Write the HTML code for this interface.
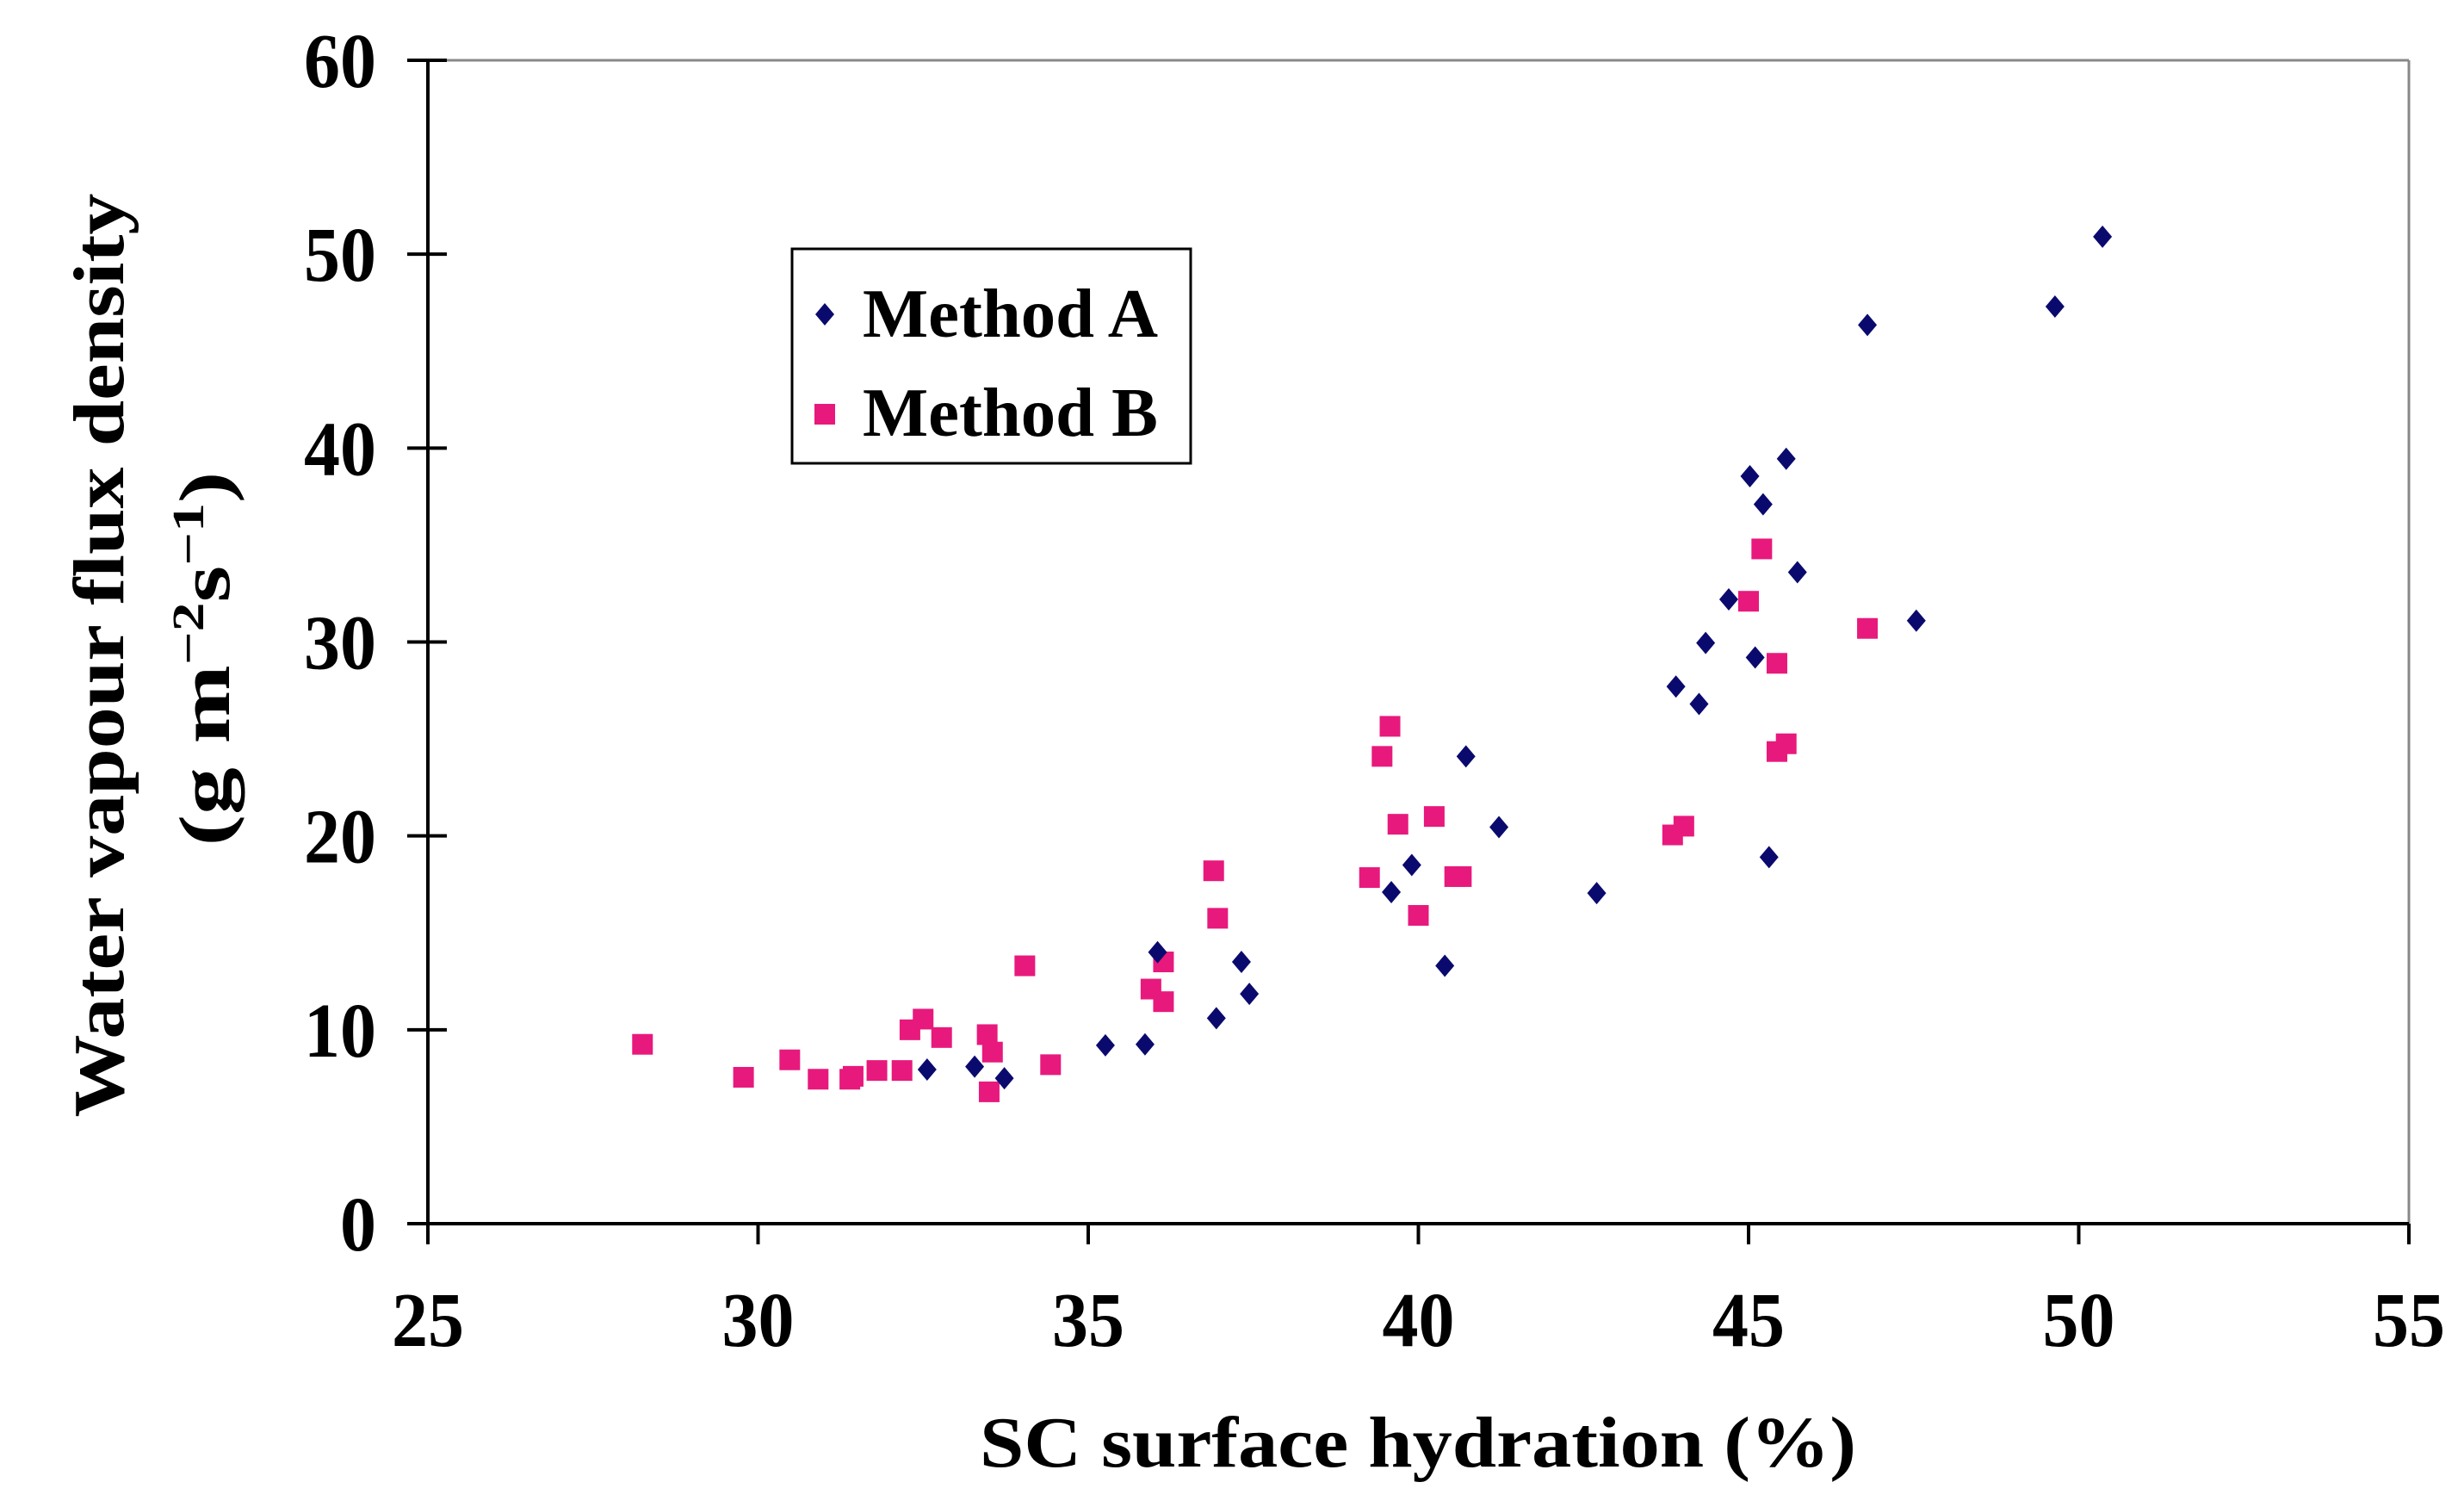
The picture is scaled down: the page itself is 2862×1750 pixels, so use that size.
<!DOCTYPE html>
<html><head><meta charset="utf-8"><style>
html,body{margin:0;padding:0;background:#fff;}
svg{display:block;}
text{font-family:"Liberation Serif",serif;font-weight:bold;fill:#000;}
</style></head><body>
<svg id="chart" width="2862" height="1750" viewBox="0 0 2862 1750" xmlns="http://www.w3.org/2000/svg">
<g id="frame">
<line x1="497" y1="70" x2="2798" y2="70" stroke="#888" stroke-width="3"/>
<line x1="2798" y1="70" x2="2798" y2="1421" stroke="#888" stroke-width="3"/>
<line x1="497" y1="70" x2="497" y2="1421" stroke="#000" stroke-width="4"/>
<line x1="497" y1="1421" x2="2798" y2="1421" stroke="#000" stroke-width="4"/>
</g>
<g id="ticks"></g>
<g id="points"></g>
<g id="legend">
<rect x="920" y="289" width="463" height="249" fill="#fff" stroke="#000" stroke-width="3"/>
<polygon points="958,352 969,365 958,378 947,365" fill="#0a0a6e"/>
<text x="1002" y="391" font-size="80" textLength="343" lengthAdjust="spacingAndGlyphs">Method A</text>
<rect x="946" y="469" width="24" height="24" fill="#e8197d"/>
<text x="1002" y="506" font-size="80" textLength="343" lengthAdjust="spacingAndGlyphs">Method B</text>
</g>
<text x="1647" y="1703" font-size="84" text-anchor="middle" textLength="1018" lengthAdjust="spacingAndGlyphs">SC surface hydration (%)</text>
<text transform="translate(143,761) rotate(-90)" font-size="84" text-anchor="middle" textLength="1073" lengthAdjust="spacingAndGlyphs">Water vapour flux density</text>
<text transform="translate(266,765) rotate(-90)" font-size="84" text-anchor="middle" textLength="435" lengthAdjust="spacingAndGlyphs">(g m<tspan font-size="52" dy="-30">−2</tspan><tspan dy="30">s</tspan><tspan font-size="52" dy="-30">−1</tspan><tspan dy="30">)</tspan></text>
</svg>
<script>
const xTicks = [25, 30, 35, 40, 45, 50, 55];
const yTicks = [0, 10, 20, 30, 40, 50, 60];
const aX = [32.56,33.28,33.73,35.26,35.86,36.05,36.94,37.32,37.44,39.59,39.9,40.4,40.72,41.22,42.7,43.9,44.25,44.35,44.7,45.02,45.1,45.22,45.31,45.57,45.74,46.8,47.54,49.64,50.36];
const aY = [7.95,8.1,7.5,9.2,9.25,14.0,10.6,13.5,11.85,17.1,18.5,13.3,24.1,20.45,17.05,27.7,26.8,29.95,32.2,38.55,29.2,37.1,18.9,39.45,33.6,46.35,31.1,47.3,50.9];
const bX = [28.25,29.78,30.48,30.91,31.39,31.44,31.8,32.18,32.3,32.5,32.78,33.47,33.55,33.5,34.04,34.43,35.95,36.14,36.14,36.9,36.96,39.26,39.45,39.57,39.69,40.0,40.24,40.55,40.65,43.85,44.02,45.0,45.2,45.43,45.43,45.57,46.8];
const bY = [9.25,7.55,8.45,7.45,7.45,7.6,7.9,7.9,10.0,10.55,9.6,9.75,8.85,6.8,13.3,8.2,12.1,13.5,11.45,18.2,15.75,17.85,24.1,25.65,20.6,15.9,21.0,17.9,17.9,20.05,20.5,32.1,34.8,28.9,24.35,24.75,30.7];
const NS = "http://www.w3.org/2000/svg";
const X0 = 497, X1 = 2798, Y0 = 1421, Y1 = 70;
function sx(v){ return X0 + (v - 25) / 30 * (X1 - X0); }
function sy(v){ return Y0 - v / 60 * (Y0 - Y1); }
const tg = document.getElementById('ticks');
const pg = document.getElementById('points');
function mk(tag, attrs, parent){ const e = document.createElementNS(NS, tag); for (const k in attrs) e.setAttribute(k, attrs[k]); parent.appendChild(e); return e; }
yTicks.forEach(v => {
  const l = mk('line', {x1: 473, x2: 519, y1: sy(v), y2: sy(v), stroke: '#000', 'stroke-width': 4}, tg);
  
  
  const t = mk('text', {x: 437, y: sy(v) + 31, 'font-size': 90, 'text-anchor': 'end', textLength: v === 0 ? 42 : 84, lengthAdjust: 'spacingAndGlyphs'}, tg);
  t.textContent = v;
  
  
});
xTicks.forEach(v => {
  const l = mk('line', {x1: sx(v), x2: sx(v), y1: 1421, y2: 1445, stroke: '#000', 'stroke-width': 4}, tg);
  
  
  const t = mk('text', {x: sx(v), y: 1563, 'font-size': 90, 'text-anchor': 'middle', textLength: 84, lengthAdjust: 'spacingAndGlyphs'}, tg);
  t.textContent = v;
  
  
});
bX.forEach((v, i) => {
  const cx = sx(v), cy = sy(bY[i]);
  const r = mk('rect', {x: cx - 12, y: cy - 12, width: 24, height: 24, fill: '#e8197d'}, pg);
  
  
});
aX.forEach((v, i) => {
  const cx = sx(v), cy = sy(aY[i]);
  const p = mk('polygon', {points: `${cx},${cy-13} ${cx+11},${cy} ${cx},${cy+13} ${cx-11},${cy}`, fill: '#0a0a6e'}, pg);
  
  
});
</script>
</body></html>
